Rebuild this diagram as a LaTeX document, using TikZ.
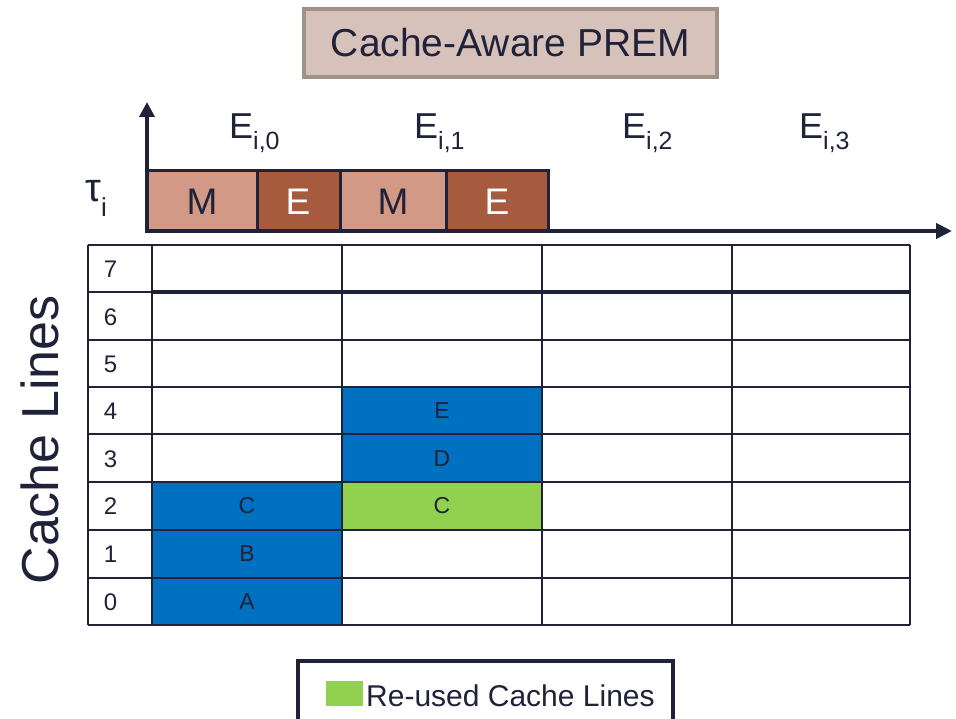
\documentclass[tikz,border=0pt]{standalone}
\usepackage{fontspec}
\setmainfont{Liberation Sans}
\usetikzlibrary{arrows.meta}
\definecolor{ink}{HTML}{1F2238}
\definecolor{cblue}{HTML}{0070C0}
\definecolor{cgreen}{HTML}{92D050}
\definecolor{mfill}{HTML}{D29A86}
\definecolor{efill}{HTML}{A65A3E}
\definecolor{tfill}{HTML}{D7C2BB}
\definecolor{tdraw}{HTML}{A09189}
\tikzset{
  gridline/.style={draw=ink, line width=2pt},
  axisline/.style={draw=ink, line width=4pt},
  boxline/.style={draw=ink, line width=3pt},
  seglabel/.style={font=\fontsize{37}{40}\selectfont, text=ink, inner sep=0pt},
  elabel/.style={font=\fontsize{36}{40}\selectfont, text=ink, inner sep=0pt, anchor=base west},
  numlabel/.style={font=\fontsize{24}{28}\selectfont, text=ink, inner sep=0pt},
  celllabel/.style={font=\fontsize{23}{28}\selectfont, text=ink, inner sep=0pt},
}
\newcommand{\subtxt}[1]{\raisebox{-0.3em}{\fontsize{25}{28}\selectfont #1}}
\begin{document}
\begin{tikzpicture}[x=1pt,y=-1pt]
\useasboundingbox (0,0) rectangle (956,719);
% title
\node[draw=tdraw, fill=tfill, line width=4pt, minimum width=413pt, minimum height=68pt,
      font=\fontsize{39}{42}\selectfont, text=ink] (title) at (510.5,43) {Cache-Aware PREM};
% timeline boxes
\fill[mfill] (147,171) rectangle (257,231);
\fill[efill] (257,171) rectangle (340,231);
\fill[mfill] (340,171) rectangle (446,231);
\fill[efill] (446,171) rectangle (548,231);
\draw[boxline] (147,171) -- (548,171) -- (548,231);
\draw[boxline] (257,171) -- (257,231);
\draw[boxline] (340,171) -- (340,231);
\draw[boxline] (446,171) -- (446,231);
\node[seglabel] (m1) at (202,202) {M};
\node[seglabel, text=white] (e1) at (298,202) {E};
\node[seglabel] (m2) at (393,202) {M};
\node[seglabel, text=white] (e2) at (497,202) {E};
% axes
\coordinate (origin) at (147,231);
\coordinate (ytip) at (147,102);
\coordinate (xtip) at (952,231);
\draw[axisline, -{Triangle[length=15pt,width=15pt]}] ([yshift=-2pt]origin) -- (ytip);
\draw[axisline, -{Triangle[length=16pt,width=15pt]}] ([xshift=-2pt]origin) -- (xtip);
% E labels
\node[elabel] (l0) at (229,139) {E\subtxt{i,0}};
\node[elabel] (l1) at (414,139) {E\subtxt{i,1}};
\node[elabel] (l2) at (622,139) {E\subtxt{i,2}};
\node[elabel] (l3) at (799,139) {E\subtxt{i,3}};
\node[elabel, font=\fontsize{40}{42}\selectfont] (tau) at (85,202) {τ\raisebox{-0.36em}{\fontsize{26}{28}\selectfont i}};
% cache lines label
\node[font=\fontsize{52}{56}\selectfont, text=ink, rotate=90, inner sep=0pt] (cl) at (40,440) {Cache Lines};
% cell fills
\fill[cblue] (152,482) rectangle (342,625);
\fill[cblue] (342,387) rectangle (542,482);
\fill[cgreen] (342,482) rectangle (542,530);
% grid
\foreach \y in {245,292,340,387,434,482,530,578,625} {\draw[gridline] (88,\y) -- (910,\y);}
\draw[draw=ink, line width=3.5pt] (152,292) -- (910,292);
\foreach \x in {88,152,342,542,732,910} {\draw[gridline] (\x,245) -- (\x,625);}
% row numbers
\foreach \n/\y in {7/269,6/317,5/364,4/411,3/459,2/506,1/554,0/602} {
  \node[numlabel] (r\n) at (110.5,\y) {\n};
}
% cell letters
\node[celllabel] (ca) at (247,602) {A};
\node[celllabel] (cb) at (247,554) {B};
\node[celllabel] (cc) at (247,506) {C};
\node[celllabel] (cc2) at (442,506) {C};
\node[celllabel] (cd) at (442,459) {D};
\node[celllabel] (ce) at (442,411) {E};
% legend
\draw[draw=ink, line width=4pt, fill=white] (298,661) rectangle (673,735);
\fill[cgreen] (326,681) rectangle (363,706) coordinate (sw);
\node[font=\fontsize{30}{34}\selectfont, text=ink, inner sep=0pt, anchor=base west] (leg) at (366,706) {Re-used Cache Lines};
\end{tikzpicture}
\end{document}
